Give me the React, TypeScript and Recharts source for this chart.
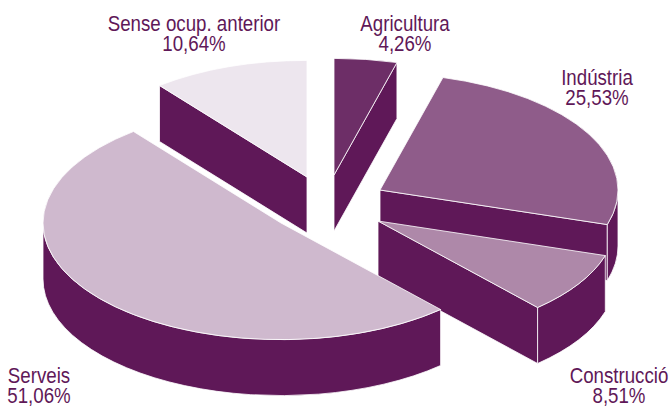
import { PieChart, Pie } from 'recharts';

const categories = ['Agricultura', 'Indústria', 'Construcció', 'Serveis', 'Sense ocup. anterior'];
const shares = [4.26, 25.53, 8.51, 51.06, 10.64];
const topColors = ['#6d2e67', '#8f5c8a', '#ae88a9', '#cfb9ce', '#ede6ee'];

const SIDE_COLOR = '#5f1858';
const SQUASH = 0.49;
const DEPTH = 56;
// no condensed font is installed, so squeeze the regular one
const TEXT_SQUEEZE = 0.85;

// how far each slice is pulled away from the pie centre
const sliceOffsets = [
  [53, -48],
  [99, -33],
  [97, -2],
  [0, 0],
  [26, -46],
];
// label anchor: centre x, first baseline
const labelSpots = [
  [405, 31],
  [597, 85],
  [619, 383],
  [39, 383],
  [194, 31],
];

const chartData = categories.map((name, i) => ({ name, value: shares[i], fill: topColors[i] }));

function Slice3D(props: any) {
  const { cx, cy, outerRadius, startAngle, endAngle, name, fill } = props;
  const i = categories.indexOf(name);
  const ox = cx + sliceOffsets[i][0];
  const oy = cy + sliceOffsets[i][1];
  const rx = outerRadius;
  const ry = outerRadius * SQUASH;
  // clockwise from 12 o'clock
  const from = 90 - startAngle;
  const to = 90 - endAngle;
  const pt = (deg: number, drop = 0) => {
    const a = (deg * Math.PI) / 180;
    return `${ox + rx * Math.sin(a)} ${oy - ry * Math.cos(a) + drop}`;
  };
  const radialWall = (deg: number) =>
    `M${ox} ${oy}L${pt(deg)}L${pt(deg, DEPTH)}L${ox} ${oy + DEPTH}Z`;
  const walls: string[] = [];
  if (Math.sin((to * Math.PI) / 180) > 0.001) walls.push(radialWall(to));
  if (Math.sin((from * Math.PI) / 180) < -0.001) walls.push(radialWall(from));
  const a0 = Math.max(from, 90);
  const a1 = Math.min(to, 270);
  if (a1 > a0) {
    const big = a1 - a0 > 180 ? 1 : 0;
    walls.push(
      `M${pt(a0)}A${rx} ${ry} 0 ${big} 1 ${pt(a1)}L${pt(a1, DEPTH)}A${rx} ${ry} 0 ${big} 0 ${pt(a0, DEPTH)}Z`,
    );
  }
  const big = to - from > 180 ? 1 : 0;
  const top = `M${ox} ${oy}L${pt(from)}A${rx} ${ry} 0 ${big} 1 ${pt(to)}Z`;
  return (
    <g>
      {walls.map((d, k) => (
        <path key={k} d={d} fill={SIDE_COLOR} stroke="#fff" strokeWidth={0.8} strokeLinejoin="round" />
      ))}
      <path d={top} fill={fill} stroke="#fff" strokeWidth={0.8} strokeLinejoin="round" />
    </g>
  );
}

function SliceLabel(props: any) {
  const i = categories.indexOf(props.name);
  const [x, y] = labelSpots[i];
  return (
    <text
      transform={`translate(${x} ${y}) scale(${TEXT_SQUEEZE} 1)`}
      textAnchor="middle"
      fill={SIDE_COLOR}
      fontFamily="'Liberation Sans', sans-serif"
      fontSize={22}
    >
      <tspan x={0}>{categories[i]}</tspan>
      <tspan x={0} dy={20.5}>{shares[i].toFixed(2).replace('.', ',')}%</tspan>
    </text>
  );
}

export default function App() {
  return (
    <div style={{ position: 'absolute', left: 0, top: 0, width: 672, height: 406 }}>
      <PieChart width={672} height={406} margin={{ top: 0, right: 0, bottom: 0, left: 0 }}>
        <Pie
          data={chartData}
          dataKey="value"
          nameKey="name"
          cx={281}
          cy={223}
          outerRadius={238}
          startAngle={90}
          endAngle={-270}
          shape={Slice3D}
          label={SliceLabel}
          labelLine={false}
          isAnimationActive={false}
        />
      </PieChart>
    </div>
  );
}
